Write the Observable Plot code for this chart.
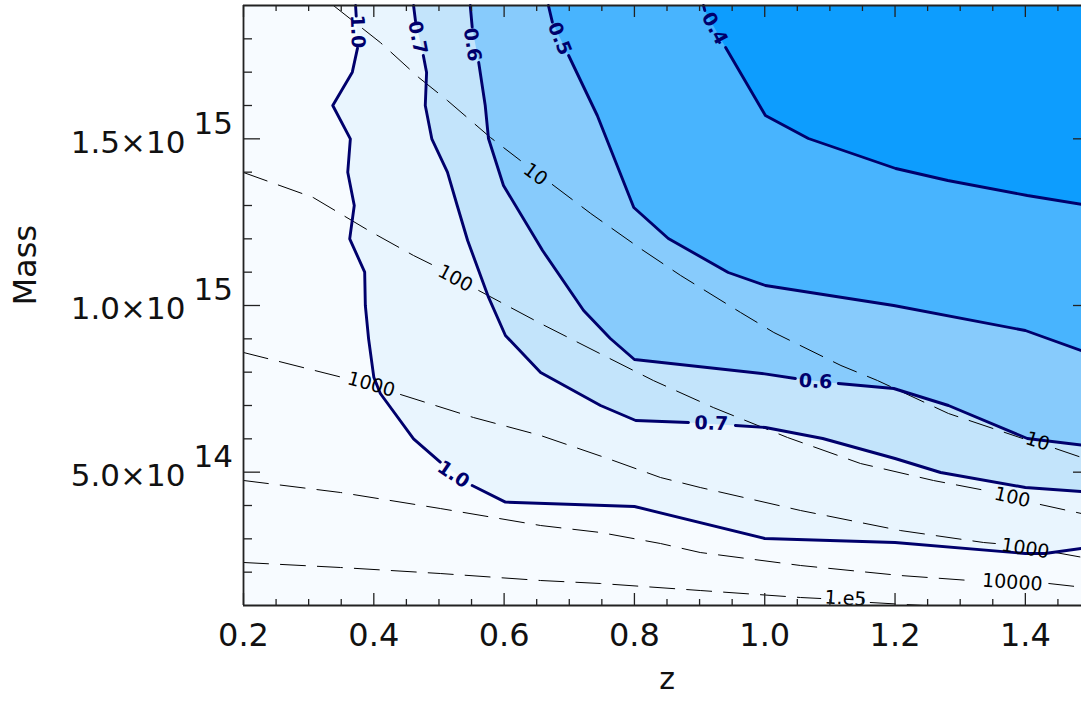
<!DOCTYPE html>
<html><head><meta charset="utf-8">
<script src="https://cdn.jsdelivr.net/npm/d3@7"></script>
<script src="https://cdn.jsdelivr.net/npm/@observablehq/plot@0.6"></script>
<style>
html,body{margin:0;padding:0;background:#fff;overflow:hidden}
#chart svg{display:block}
</style></head><body><div id="chart"></div>
<script>
// ---- data (z = redshift, mass in units of 1e15) ----
const zDomain = [0.2, 1.5];
const massDomain = [0.1, 1.9];
const xMajorTicks = [0.2, 0.4, 0.6, 0.8, 1.0, 1.2, 1.4];
const xTickLabels = ["0.2", "0.4", "0.6", "0.8", "1.0", "1.2", "1.4"];
const xMinorTicks = [0.25,0.3,0.35,0.45,0.5,0.55,0.65,0.7,0.75,0.85,0.9,0.95,1.05,1.1,1.15,1.25,1.3,1.35,1.45];
const yMajorTicks = [0.5, 1.0, 1.5];
const yTickMantissa = ["5.0×10", "1.0×10", "1.5×10"];
const yTickExponent = ["14", "15", "15"];
const yMinorTicks = [0.2,0.3,0.4,0.6,0.7,0.8,0.9,1.1,1.2,1.3,1.4,1.6,1.7,1.8];

const contourLevels = ["1.0", "0.7", "0.6", "0.5", "0.4"];
const levelFills = ["#e9f5fe", "#c3e4fb", "#87cbfc", "#48b4fe", "#0d9dfe"];
const aboveFill = "#f7fbff";
const contourColor = "#00006c";

// contour polylines [z, mass]; null = gap where a label sits
const contour10 = [[0.372,1.9],[0.373,1.868],null,[0.375,1.772],[0.367,1.70],[0.337,1.60],[0.364,1.50],[0.360,1.40],[0.370,1.30],[0.363,1.20],[0.386,1.10],[0.387,1.00],[0.392,0.90],[0.400,0.785],[0.410,0.736],[0.461,0.60],[0.502,0.53],null,[0.551,0.46],[0.602,0.41],[0.80,0.397],[1.0,0.301],[1.2,0.289],[1.40,0.256],[1.43,0.256],[1.5,0.275]];
const contour07 = [[0.461,1.9],[0.464,1.853],null,[0.476,1.75],[0.481,1.699],[0.479,1.60],[0.489,1.50],[0.513,1.40],[0.528,1.30],[0.544,1.195],[0.576,1.025],[0.602,0.91],[0.656,0.799],[0.748,0.70],[0.802,0.655],[0.883,0.649],null,[0.955,0.64],[1.001,0.634],[1.089,0.601],[1.2,0.541],[1.27,0.499],[1.4,0.454],[1.5,0.44]];
const contour06 = [[0.548,1.9],[0.551,1.835],null,[0.561,1.729],[0.571,1.60],[0.576,1.501],[0.599,1.36],[0.659,1.165],[0.722,0.985],[0.763,0.901],[0.80,0.838],[1.0,0.795],[1.047,0.781],null,[1.113,0.766],[1.198,0.751],[1.282,0.70],[1.403,0.601],[1.5,0.578]];
const contour05 = [[0.668,1.9],[0.674,1.85],null,[0.699,1.75],[0.743,1.57],[0.799,1.294],[0.852,1.201],[0.944,1.099],[1.001,1.06],[1.198,1.0],[1.4,0.925],[1.5,0.855]];
const contour04 = [[0.906,1.9],[0.908,1.885],null,[0.94,1.774],[1.001,1.57],[1.067,1.501],[1.201,1.411],[1.281,1.375],[1.403,1.33],[1.5,1.299]];

// dashed iso-lines
const line10 = [[0.338,1.9],[0.410,1.789],[0.469,1.684],[0.513,1.615],[0.579,1.504],[0.625,1.435],null,[0.674,1.363],[0.733,1.276],[0.809,1.171],[0.871,1.09],[0.963,0.979],[1.014,0.919],[1.117,0.82],[1.173,0.775],[1.282,0.676],[1.396,0.601],null,[1.446,0.571],[1.5,0.535]];
const line100 = [[0.2,1.399],[0.307,1.324],[0.392,1.225],[0.461,1.15],[0.492,1.12],null,[0.561,1.045],[0.656,0.946],[0.759,0.844],[0.829,0.775],[0.921,0.694],[1.035,0.604],[1.147,0.526],[1.259,0.475],[1.339,0.445],null,[1.423,0.403],[1.5,0.37]];
const line1000 = [[0.2,0.859],[0.352,0.784],null,[0.441,0.733],[0.553,0.664],[0.656,0.61],[0.759,0.541],[0.840,0.484],[0.901,0.454],[1.055,0.385],[1.208,0.325],[1.336,0.289],[1.354,0.286],null,[1.446,0.259],[1.5,0.24]];
const line10000 = [[0.2,0.475],[0.349,0.439],[0.502,0.391],[0.656,0.34],[0.748,0.319],[0.840,0.286],[0.901,0.259],[1.055,0.22],[1.208,0.19],[1.315,0.175],null,[1.436,0.166],[1.5,0.152]];
const line1e5 = [[0.2,0.229],[0.349,0.214],[0.502,0.196],[0.656,0.175],[0.748,0.166],[0.901,0.145],[1.055,0.124],[1.086,0.121],null,[1.162,0.109],[1.244,0.1]];

const dashText = ["10", "10", "100", "100", "1000", "1000", "10000", "1.e5"];
const dashZ = [0.648, 1.419, 0.525, 1.380, 0.396, 1.400, 1.380, 1.124];
const dashM = [1.393, 0.592, 1.081, 0.424, 0.763, 0.271, 0.169, 0.121];
const dashAngle = [37, 18, 28, 13, 16, 9, 4, 3];

const labelText = ["1.0", "0.7", "0.6", "0.5", "0.4", "1.0", "0.7", "0.6"];
const labelZ = [0.375, 0.467, 0.551, 0.685, 0.923, 0.522, 0.918, 1.078];
const labelM = [1.822, 1.804, 1.783, 1.801, 1.831, 0.493, 0.646, 0.772];
const labelAngle = [88, 79, 82, 68, 62, 34, 2, 3];

// ---- build ----
const W = 1081, H = 702, mL = 243, mR = -9, mT = 5, mB = 97;
const frameW = W - mL - mR, frameH = H - mT - mB;
const toPts = arr => arr.map(p => p ? {z: p[0], m: p[1]} : {z: NaN, m: NaN});
const polyPts = arr => arr.filter(p => p).map(p => ({z: p[0], m: p[1]})).concat([{z: zDomain[1], m: massDomain[1]}]);
const contours = [contour10, contour07, contour06, contour05, contour04];
const dashLines = [line10, line100, line1000, line10000, line1e5];
const dashLab = dashText.map((t, i) => ({t, z: dashZ[i], m: dashM[i], a: dashAngle[i]}));
const cLab = labelText.map((t, i) => ({t, z: labelZ[i], m: labelM[i], a: labelAngle[i]}));
const xLab = xMajorTicks.map((v, i) => ({v, t: xTickLabels[i]}));
const yLab = yMajorTicks.map((v, i) => ({v, b: yTickMantissa[i], e: yTickExponent[i]}));
const font = "DejaVu Sans";
const axisColor = "#222";

const chart = Plot.plot({
  width: W, height: H,
  marginLeft: mL, marginRight: mR, marginTop: mT, marginBottom: mB,
  x: {domain: zDomain, axis: null},
  y: {domain: massDomain, axis: null},
  style: {fontFamily: font, background: "white", color: "#111"},
  marks: [
    Plot.frame({fill: aboveFill, stroke: "none"}),
    ...contours.map((c, i) => Plot.line(polyPts(c), {x: "z", y: "m", fill: levelFills[i], stroke: "none"})),
    ...dashLines.map(d => Plot.line(toPts(d), {x: "z", y: "m", stroke: "#000", strokeWidth: 1, strokeDasharray: "25,12"})),
    ...contours.map(c => Plot.line(toPts(c), {x: "z", y: "m", stroke: contourColor, strokeWidth: 2.9})),
    Plot.text(dashLab, {x: "z", y: "m", text: "t", rotate: "a", fill: "#000", fontSize: 19, fontFamily: font}),
    Plot.text(cLab, {x: "z", y: "m", text: "t", rotate: "a", fill: contourColor, fontSize: 19, fontWeight: "bold", fontFamily: font}),
    // ticks (inward)
    Plot.tickX(xMajorTicks, {x: d => d, insetTop: frameH - 12, stroke: axisColor, strokeWidth: 1.3}),
    Plot.tickX(xMinorTicks, {x: d => d, insetTop: frameH - 6, stroke: axisColor, strokeWidth: 1.3}),
    Plot.tickX(xMajorTicks, {x: d => d, insetBottom: frameH - 12, stroke: axisColor, strokeWidth: 1.3}),
    Plot.tickX(xMinorTicks, {x: d => d, insetBottom: frameH - 6, stroke: axisColor, strokeWidth: 1.3}),
    Plot.tickY(yMajorTicks, {y: d => d, insetRight: frameW - 17, stroke: axisColor, strokeWidth: 1.3}),
    Plot.tickY(yMinorTicks, {y: d => d, insetRight: frameW - 9, stroke: axisColor, strokeWidth: 1.3}),
    Plot.tickY(yMajorTicks, {y: d => d, insetLeft: frameW - 17, stroke: axisColor, strokeWidth: 1.3}),
    Plot.tickY(yMinorTicks, {y: d => d, insetLeft: frameW - 9, stroke: axisColor, strokeWidth: 1.3}),
    // frame lines
    Plot.ruleX([zDomain[0]], {stroke: axisColor, strokeWidth: 1.8}),
    Plot.ruleY([massDomain[0]], {stroke: axisColor, strokeWidth: 1.8}),
    Plot.ruleY([massDomain[1]], {stroke: axisColor, strokeWidth: 1.8}),
    // tick labels
    Plot.text(xLab, {x: "v", text: "t", frameAnchor: "bottom", dy: 40, fontSize: 32, fill: "#111"}),
    Plot.text(yLab, {y: "v", text: "b", frameAnchor: "left", textAnchor: "end", dx: -58, dy: 4, fontSize: 31, fill: "#111"}),
    Plot.text(yLab, {y: "v", text: "e", frameAnchor: "left", textAnchor: "start", dx: -50, dy: -15, fontSize: 31, fill: "#111"}),
    // titles
    Plot.text(["z"], {text: d => d, frameAnchor: "bottom", dy: 83, fontSize: 30, fill: "#111"}),
    Plot.text(["Mass"], {text: d => d, frameAnchor: "left", dx: -218, rotate: -90, fontSize: 32, fill: "#111"})
  ]
});
document.getElementById("chart").appendChild(chart);
</script>
</body></html>
